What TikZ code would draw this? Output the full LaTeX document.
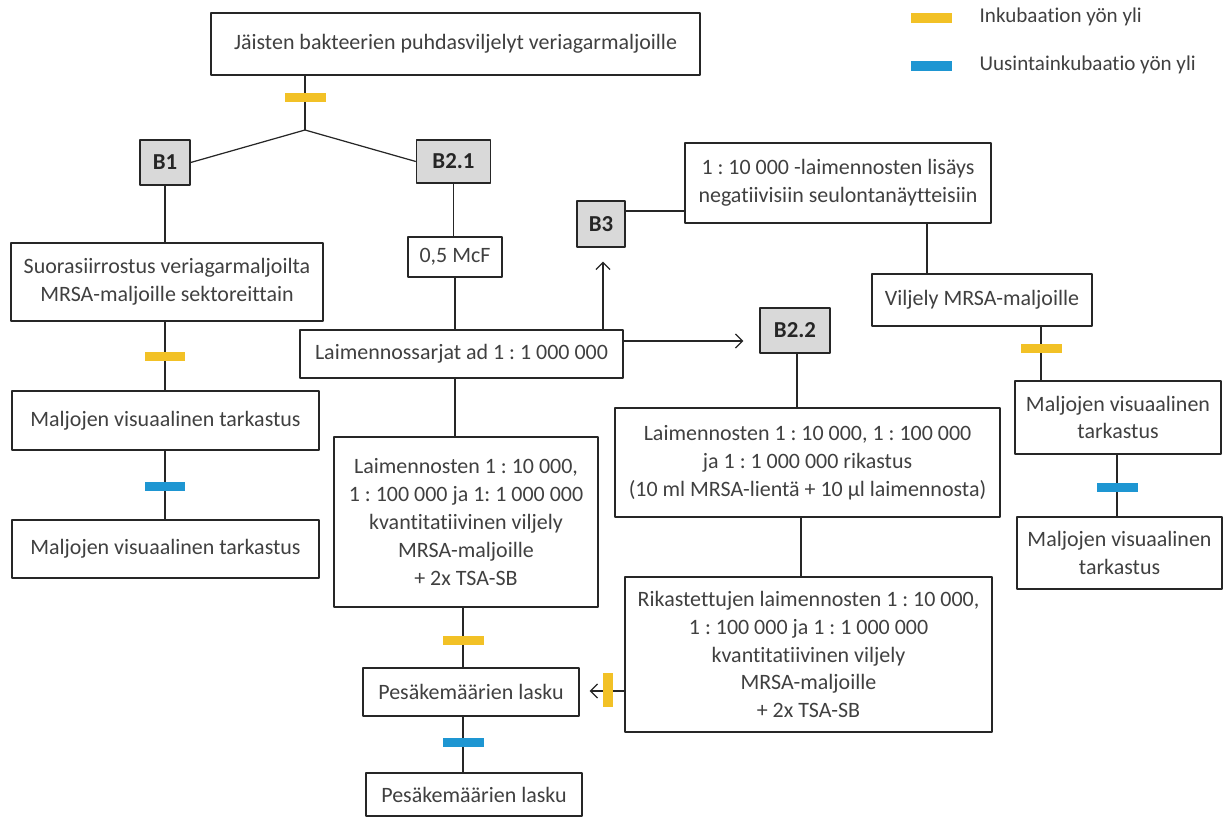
\documentclass[tikz,border=0pt]{standalone}
\usepackage{fontspec}
\setmainfont{Carlito}[Ligatures=NoCommon]
\frenchspacing
\usetikzlibrary{arrows.meta}
\definecolor{incub}{RGB}{242,193,38}
\definecolor{reinc}{RGB}{30,150,210}
\definecolor{ink}{RGB}{64,64,64}

\begin{document}
\begin{tikzpicture}[x=0.02cm,y=-0.02cm,line join=round,line width=0.7pt,color=black!85,>={Straight Barb[length=4pt,width=8pt]}]
	\tikzset{box/.style={draw,line width=0.8pt,inner sep=0pt,align=center,text=ink,font=\fontsize{12.5}{15.8}\selectfont},
		tag/.style={box,fill=gray!30,text=black!85,font=\fontsize{13}{16}\selectfont\bfseries},
		ybar/.style={fill=incub,inner sep=0pt,minimum width=0.82cm,minimum height=0.18cm},
		bbar/.style={ybar,fill=reinc},
		legtext/.style={anchor=west,inner sep=0pt,text=ink,font=\fontsize{12}{14}\selectfont}}
	\useasboundingbox (0,0) rectangle (1229,818);
	\node[box,minimum width=9.78cm,minimum height=1.24cm] (top) at (455.5,44) {Jäisten bakteerien puhdasviljelyt veriagarmaljoille};
	\node[tag,minimum width=1cm,minimum height=0.9cm] (b1) at (165,162.5) {B1};
	\node[tag,minimum width=1.48cm,minimum height=0.86cm] (b21) at (453.5,161.5) {B2.1};
	\node[box,minimum width=6.24cm,minimum height=1.56cm] (suo) at (167,282) {Suorasiirrostus veriagarmaljoilta\\MRSA-maljoille sektoreittain};
	\node[box,minimum width=6.14cm,minimum height=1.18cm] (mv1) at (165.5,420.5) {Maljojen visuaalinen tarkastus};
	\node[box,minimum width=6.14cm,minimum height=1.16cm] (mv2) at (165.5,549) {Maljojen visuaalinen tarkastus};
	\node[box,minimum width=1.88cm,minimum height=0.8cm] (mcf) at (455,257) {0,5 McF};
	\node[box,minimum width=6.46cm,minimum height=0.96cm] (lai) at (461.5,354) {Laimennossarjat ad 1 : 1 000 000};
	\node[box,minimum width=5.28cm,minimum height=3.4cm] (kva) at (466,522) {Laimennosten 1 : 10 000,\\1 : 100 000 ja 1: 1 000 000\\kvantitatiivinen viljely\\MRSA-maljoille\\+ 2x TSA-SB};
	\node[box,minimum width=4.32cm,minimum height=0.96cm] (pes1) at (471,692) {Pesäkemäärien lasku};
	\node[box,minimum width=4.32cm,minimum height=0.86cm] (pes2) at (474,794.5) {Pesäkemäärien lasku};
	\node[tag,minimum width=0.96cm,minimum height=0.92cm] (b3) at (601,224) {B3};
	\node[tag,minimum width=1.4cm,minimum height=0.9cm] (b22) at (795,330.5) {B2.2};
	\node[box,minimum width=7.7cm,minimum height=2.18cm] (rik) at (807.5,462.5) {Laimennosten 1 : 10 000, 1 : 100 000\\ja 1 : 1 000 000 rikastus\\(10 ml MRSA-lientä + 10 µl laimennosta)};
	\node[box,minimum width=7.34cm,minimum height=3.1cm] (ri2) at (808.5,654.5) {Rikastettujen laimennosten 1 : 10 000,\\1 : 100 000 ja 1 : 1 000 000\\kvantitatiivinen viljely\\MRSA-maljoille\\+ 2x TSA-SB};
	\node[box,minimum width=6.12cm,minimum height=1.6cm] (lis) at (838,183) {1 : 10 000 -laimennosten lisäys\\negatiivisiin seulontanäytteisiin};
	\node[box,minimum width=4.4cm,minimum height=1.04cm] (vil) at (982,300) {Viljely MRSA-maljoille};
	\node[box,minimum width=4.12cm,minimum height=1.46cm] (mv3) at (1118,417.5) {Maljojen visuaalinen\\tarkastus};
	\node[box,minimum width=4.1cm,minimum height=1.44cm] (mv4) at (1119.5,553) {Maljojen visuaalinen\\tarkastus};
	\coordinate (jn) at (305,130);
	\coordinate (xa) at (165,0);
	\coordinate (xb) at (455,0);
	\coordinate (xc) at (463,0);
	\coordinate (xd) at (603,0);
	\coordinate (xe) at (927,0);
	\coordinate (xf) at (1041,0);
	\coordinate (xg) at (1117,0);
	\coordinate (xh) at (797,0);
	\coordinate (xi) at (801,0);
	\coordinate (ya) at (0,341);
	\coordinate (yb) at (0,211);
	\coordinate (yc) at (0,691);
	\draw (top.south -| jn) -- (jn);
	\draw (b1.east) -- (jn) -- (b21.west);
	\draw (b1.south) -- (b1.south |- suo.north);
	\draw (suo.south -| xa) -- (mv1.north -| xa);
	\draw (mv1.south -| xa) -- (mv2.north -| xa);
	\draw (b21.south) -- (b21.south |- mcf.north);
	\draw (mcf.south -| xb) -- (lai.north -| xb);
	\draw (lai.south -| xb) -- (kva.north -| xb);
	\draw (kva.south -| xc) -- (pes1.north -| xc);
	\draw (pes1.south -| xc) -- (pes2.north -| xc);
	\draw[->,shorten >=0.28cm] (lai.north -| xd) -- (b3.south -| xd);
	\draw[->,shorten >=0.32cm] (lai.east |- ya) -- (b22.west |- ya);
	\draw (b3.east |- yb) -- (lis.west |- yb);
	\draw (lis.south -| xe) -- (vil.north -| xe);
	\draw (vil.south -| xf) -- (mv3.north -| xf);
	\draw (mv3.south -| xg) -- (mv4.north -| xg);
	\draw (b22.south -| xh) -- (rik.north -| xh);
	\draw (rik.south -| xi) -- (ri2.north -| xi);
	\draw[->,shorten >=0.2cm] (ri2.west |- yc) -- (pes1.east |- yc);
	\foreach \p [count=\i] in {(305,97),(165,356),(463.5,640),(1041,348)}
	\node[ybar] (inc\i) at \p {};
	\foreach \p [count=\i] in {(165,486),(463.5,742),(1117,487)}
	\node[bbar] (rei\i) at \p {};
	\node[ybar,minimum width=0.2cm,minimum height=0.68cm] (inc5) at (608,690) {};
	\node[ybar,minimum height=0.2cm] (legy) at (931.5,18) {};
	\node[bbar,minimum height=0.2cm] (legb) at (931.5,66) {};
	\node[legtext] (legyt) at (979,17) {Inkubaation yön yli};
	\node[legtext] (legbt) at (979,65) {Uusintainkubaatio yön yli};
\end{tikzpicture}
\end{document}
